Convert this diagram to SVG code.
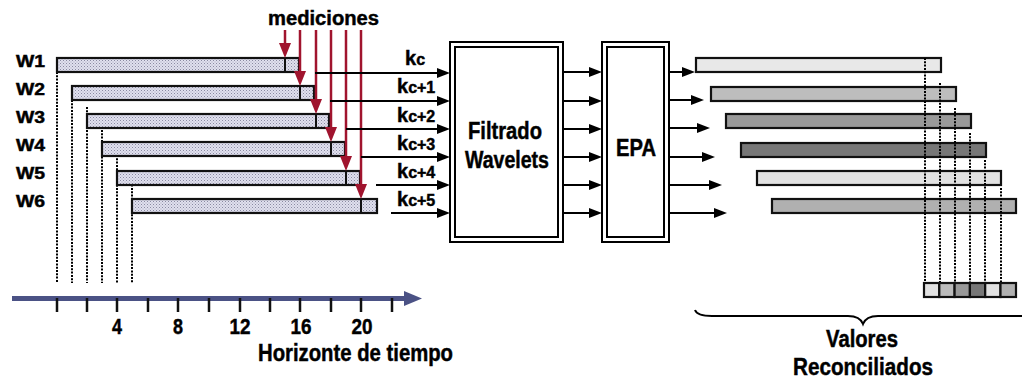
<svg xmlns="http://www.w3.org/2000/svg" width="1022" height="381" viewBox="0 0 1022 381">
<style>
  text { font-family: "Liberation Sans", Arial, sans-serif; font-weight: bold; fill: #000; stroke: #000; stroke-width: 0.45; }
  .big { font-size: 23px; }
  .wl { font-size: 16px; }
  .tick { font-size: 22px; text-anchor: middle; }
  .box { fill: #fff; stroke: #000; stroke-width: 2; }
  .wbar { fill: url(#dots); stroke: #111; stroke-width: 2.2; }
  .rbar { stroke: #111; stroke-width: 2.2; }
  .dot { stroke: #000; stroke-width: 2; stroke-dasharray: 2 1.3; fill: none; }
  .red { stroke: #a0142e; stroke-width: 2.5; marker-end: url(#redhead); }
  .blk { stroke: #000; stroke-width: 2; marker-end: url(#blkhead); }
  .mark { stroke: #111; stroke-width: 2; }
</style>
<defs>
  <pattern id="dots" width="3" height="3" patternUnits="userSpaceOnUse">
    <rect width="3" height="3" fill="#e0e0ee"/>
    <rect x="0" y="0" width="1" height="1" fill="#8a8aa2"/>
    <rect x="1.5" y="1.5" width="1" height="1" fill="#a4a4ba"/>
  </pattern>
  <marker id="redhead" markerUnits="userSpaceOnUse" markerWidth="15" markerHeight="12" refX="8" refY="6" orient="auto">
    <path d="M0,0 L15,6 L0,12 z" fill="#a0142e"/>
  </marker>
  <marker id="blkhead" markerUnits="userSpaceOnUse" markerWidth="13" markerHeight="10" refX="7" refY="5" orient="auto">
    <path d="M0,0 L13,5 L0,10 z" fill="#000"/>
  </marker>
</defs>

<g id="left-guides">
  <line class="dot" x1="57" y1="72" x2="57" y2="283"/>
  <line class="dot" x1="72" y1="100" x2="72" y2="283"/>
  <line class="dot" x1="87" y1="107" x2="87" y2="283"/>
  <line class="dot" x1="102" y1="130" x2="102" y2="283"/>
  <line class="dot" x1="117" y1="155" x2="117" y2="283"/>
  <line class="dot" x1="132" y1="178" x2="132" y2="283"/>
</g>

<g id="w1"><text class="wl" x="16" y="67" textLength="29" lengthAdjust="spacingAndGlyphs">W1</text>
  <rect class="wbar" x="57" y="58" width="242" height="14"/><line class="mark" x1="285" y1="58" x2="285" y2="72"/></g>
<g id="w2"><text class="wl" x="16" y="95" textLength="29" lengthAdjust="spacingAndGlyphs">W2</text>
  <rect class="wbar" x="72" y="86" width="242" height="14"/><line class="mark" x1="300" y1="86" x2="300" y2="100"/></g>
<g id="w3"><text class="wl" x="16" y="123" textLength="29" lengthAdjust="spacingAndGlyphs">W3</text>
  <rect class="wbar" x="87" y="114" width="242" height="14"/><line class="mark" x1="316" y1="114" x2="316" y2="128"/></g>
<g id="w4"><text class="wl" x="16" y="151" textLength="29" lengthAdjust="spacingAndGlyphs">W4</text>
  <rect class="wbar" x="102" y="142" width="243" height="14"/><line class="mark" x1="331" y1="142" x2="331" y2="156"/></g>
<g id="w5"><text class="wl" x="16" y="179" textLength="29" lengthAdjust="spacingAndGlyphs">W5</text>
  <rect class="wbar" x="117" y="171" width="243" height="14"/><line class="mark" x1="346" y1="171" x2="346" y2="185"/></g>
<g id="w6"><text class="wl" x="16" y="207" textLength="29" lengthAdjust="spacingAndGlyphs">W6</text>
  <rect class="wbar" x="132" y="199" width="245" height="14"/><line class="mark" x1="361" y1="199" x2="361" y2="213"/></g>

<g id="mediciones">
  <text x="268" y="25" style="font-size:20px" textLength="111" lengthAdjust="spacingAndGlyphs">mediciones</text>
</g>

<g id="connectors">
  <line class="red" x1="285" y1="30" x2="285" y2="51"/>
  <line class="red" x1="300" y1="30" x2="300" y2="79"/>
  <line class="red" x1="316" y1="30" x2="316" y2="107"/>
  <line class="red" x1="331" y1="30" x2="331" y2="135"/>
  <line class="red" x1="346" y1="30" x2="346" y2="164"/>
  <line class="red" x1="361" y1="30" x2="361" y2="192"/>
  <line class="blk" x1="315" y1="73" x2="444" y2="73"/>
  <line class="blk" x1="330" y1="101" x2="444" y2="101"/>
  <line class="blk" x1="346" y1="129" x2="444" y2="129"/>
  <line class="blk" x1="361" y1="157" x2="444" y2="157"/>
  <line class="blk" x1="376" y1="185" x2="444" y2="185"/>
  <line class="blk" x1="391" y1="213" x2="444" y2="213"/>
  <line class="blk" x1="563" y1="72" x2="596" y2="72"/>
  <line class="blk" x1="563" y1="101" x2="596" y2="101"/>
  <line class="blk" x1="563" y1="129" x2="596" y2="129"/>
  <line class="blk" x1="563" y1="157" x2="596" y2="157"/>
  <line class="blk" x1="563" y1="185" x2="596" y2="185"/>
  <line class="blk" x1="563" y1="213" x2="596" y2="213"/>
  <line class="blk" x1="669" y1="72" x2="689" y2="72"/>
  <line class="blk" x1="669" y1="100" x2="698" y2="100"/>
  <line class="blk" x1="669" y1="128" x2="704" y2="128"/>
  <line class="blk" x1="669" y1="157" x2="709" y2="157"/>
  <line class="blk" x1="669" y1="185" x2="716" y2="185"/>
  <line class="blk" x1="669" y1="213" x2="721" y2="213"/>
</g>

<g id="k-labels">
  <text x="405" y="65"><tspan style="font-size:20px">k</tspan><tspan style="font-size:16px">c</tspan></text>
  <text x="397" y="93"><tspan style="font-size:20px">k</tspan><tspan style="font-size:16px">c+1</tspan></text>
  <text x="397" y="122"><tspan style="font-size:20px">k</tspan><tspan style="font-size:16px">c+2</tspan></text>
  <text x="397" y="150"><tspan style="font-size:20px">k</tspan><tspan style="font-size:16px">c+3</tspan></text>
  <text x="397" y="178"><tspan style="font-size:20px">k</tspan><tspan style="font-size:16px">c+4</tspan></text>
  <text x="397" y="206"><tspan style="font-size:20px">k</tspan><tspan style="font-size:16px">c+5</tspan></text>
</g>

<g id="filtrado">
  <rect class="box" x="450" y="42" width="113" height="200"/>
  <rect class="box" x="455" y="47" width="103" height="190"/>
  <text class="big" x="505" y="139" text-anchor="middle" textLength="74" lengthAdjust="spacingAndGlyphs">Filtrado</text>
  <text class="big" x="507" y="168" text-anchor="middle" textLength="84" lengthAdjust="spacingAndGlyphs">Wavelets</text>
</g>

<g id="epa">
  <rect class="box" x="602" y="42" width="67" height="200"/>
  <rect class="box" x="607" y="47" width="57" height="190"/>
  <text class="big" x="636" y="156" text-anchor="middle" textLength="40" lengthAdjust="spacingAndGlyphs">EPA</text>
</g>

<g id="result-bars">
  <rect class="rbar" x="696" y="58" width="245" height="14" fill="#e8e8e8"/>
  <rect class="rbar" x="711" y="87" width="245" height="14" fill="#bdbdbd"/>
  <rect class="rbar" x="726" y="114" width="245" height="14" fill="#999999"/>
  <rect class="rbar" x="741" y="143" width="245" height="14" fill="#777777"/>
  <rect class="rbar" x="757" y="171" width="244" height="14" fill="#e2e2e2"/>
  <rect class="rbar" x="772" y="199" width="244" height="14" fill="#b0b0b0"/>
</g>

<g id="right-guides">
  <line class="dot" x1="925" y1="58" x2="925" y2="283"/>
  <line class="dot" x1="940" y1="83" x2="940" y2="283"/>
  <line class="dot" x1="955" y1="108" x2="955" y2="283"/>
  <line class="dot" x1="970" y1="133" x2="970" y2="283"/>
  <line class="dot" x1="985" y1="160" x2="985" y2="283"/>
  <line class="dot" x1="1001" y1="188" x2="1001" y2="283"/>
</g>

<g id="reconciled-cells">
  <rect class="rbar" x="924" y="283" width="15.3" height="14" fill="#e2e2e2"/>
  <rect class="rbar" x="939.3" y="283" width="15.3" height="14" fill="#bbbbbb"/>
  <rect class="rbar" x="954.6" y="283" width="15.3" height="14" fill="#999999"/>
  <rect class="rbar" x="969.9" y="283" width="15.3" height="14" fill="#777777"/>
  <rect class="rbar" x="985.2" y="283" width="15.3" height="14" fill="#e2e2e2"/>
  <rect class="rbar" x="1000.5" y="283" width="15.5" height="14" fill="#b0b0b0"/>
</g>

<g id="brace">
  <path d="M695,310 Q697,316 712,316 L848,316 Q860,316 863,324 Q866,316 878,316 L1024,316" fill="none" stroke="#000" stroke-width="2"/>
  <text class="big" x="862" y="347" text-anchor="middle" textLength="72" lengthAdjust="spacingAndGlyphs">Valores</text>
  <text class="big" x="863" y="375" text-anchor="middle" textLength="140" lengthAdjust="spacingAndGlyphs">Reconciliados</text>
</g>

<g id="time-axis">
  <line x1="12" y1="298.5" x2="407" y2="298.5" stroke="#4b5285" stroke-width="5"/>
  <polygon points="404,291 422,298.5 404,306" fill="#4b5285"/>
  <g stroke="#111" stroke-width="2.5">
    <line x1="57" y1="298" x2="57" y2="312"/>
    <line x1="87" y1="298" x2="87" y2="312"/>
    <line x1="117" y1="298" x2="117" y2="312"/>
    <line x1="148" y1="298" x2="148" y2="312"/>
    <line x1="178" y1="298" x2="178" y2="312"/>
    <line x1="209" y1="298" x2="209" y2="312"/>
    <line x1="240" y1="298" x2="240" y2="312"/>
    <line x1="270" y1="298" x2="270" y2="312"/>
    <line x1="300" y1="298" x2="300" y2="312"/>
    <line x1="331" y1="298" x2="331" y2="312"/>
    <line x1="361" y1="298" x2="361" y2="312"/>
    <line x1="392" y1="298" x2="392" y2="312"/>
  </g>
  <text class="tick" x="117" y="334" textLength="10" lengthAdjust="spacingAndGlyphs">4</text>
  <text class="tick" x="178" y="334" textLength="10" lengthAdjust="spacingAndGlyphs">8</text>
  <text class="tick" x="240" y="334" textLength="21" lengthAdjust="spacingAndGlyphs">12</text>
  <text class="tick" x="301" y="334" textLength="21" lengthAdjust="spacingAndGlyphs">16</text>
  <text class="tick" x="362" y="334" textLength="21" lengthAdjust="spacingAndGlyphs">20</text>
  <text class="big" x="258" y="361" textLength="195" lengthAdjust="spacingAndGlyphs">Horizonte de tiempo</text>
</g>
</svg>
